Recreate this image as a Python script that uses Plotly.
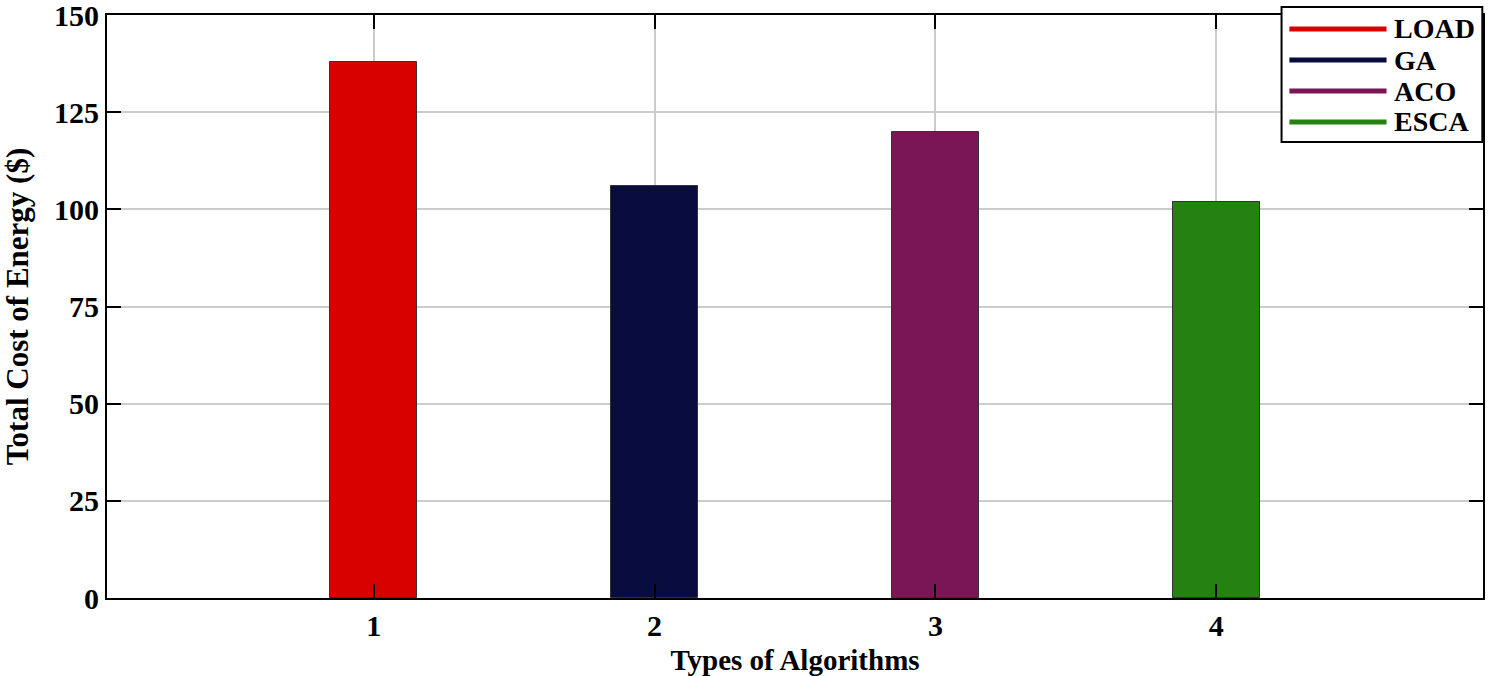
import plotly.graph_objects as go

# Data
algorithms = ["LOAD", "GA", "ACO", "ESCA"]
x_positions = [1, 2, 3, 4]
total_cost = [138, 106, 120, 102]
colors = ["#D90000", "#080C3E", "#7B1656", "#268210"]
y_ticks = [0, 25, 50, 75, 100, 125, 150]
x_ticks = [1, 2, 3, 4]

FONT = "Liberation Serif, Times New Roman, serif"

fig = go.Figure()
for xi, yi, name, c in zip(x_positions, total_cost, algorithms, colors):
    fig.add_trace(go.Bar(
        x=[xi], y=[yi], name=name, width=0.31,
        marker=dict(color=c, line=dict(color="#333333", width=1)),
        showlegend=False,
    ))

axis_common = dict(
    showline=True, linecolor="black", linewidth=2, mirror="ticks",
    ticks="inside", ticklen=14, tickwidth=2, tickcolor="black",
    showgrid=True, gridcolor="#cccccc", gridwidth=1.5,
    zeroline=False, automargin=False, ticklabeloverflow="allow",
    tickfont=dict(family=FONT, size=30, color="black", weight=700),
)

fig.update_layout(
    width=1490, height=676,
    margin=dict(l=107, r=7, t=15, b=78),
    paper_bgcolor="white", plot_bgcolor="white",
    bargap=0,
    xaxis=dict(range=[0.05, 4.95], tickvals=x_ticks, ticktext=[str(t) for t in x_ticks],
               title=dict(text="Types of Algorithms", standoff=10,
                          font=dict(family=FONT, size=29, color="black", weight=700)),
               **axis_common),
    yaxis=dict(range=[0, 150], tickvals=y_ticks, ticktext=[str(t) for t in y_ticks],
               title=dict(text="Total Cost of Energy ($)", standoff=19,
                          font=dict(family=FONT, size=31, color="black", weight=700)),
               **axis_common),
    font=dict(family=FONT, color="black"),
)

# Manual legend (line samples like the reference)
shapes = [dict(type="rect", xref="paper", yref="paper", x0=0.8536, x1=0.9995,
               y0=0.782, y1=1.0137, fillcolor="white",
               line=dict(color="black", width=2), layer="above")]
annotations = []
row_y = [0.976, 0.9228, 0.8696, 0.8165]
for name, c, ry in zip(algorithms, colors, row_y):
    shapes.append(dict(type="line", xref="paper", yref="paper", x0=0.8593, x1=0.9299,
                       y0=ry, y1=ry, line=dict(color=c, width=5), layer="above"))
    annotations.append(dict(xref="paper", yref="paper", x=0.934, y=ry, text=name,
                            showarrow=False, xanchor="left", yanchor="middle",
                            font=dict(family=FONT, size=28, color="black", weight=700)))
fig.update_layout(shapes=shapes, annotations=annotations)

fig.write_html("out.html", config={"displayModeBar": False},
               post_script="document.body.style.margin='0';")
